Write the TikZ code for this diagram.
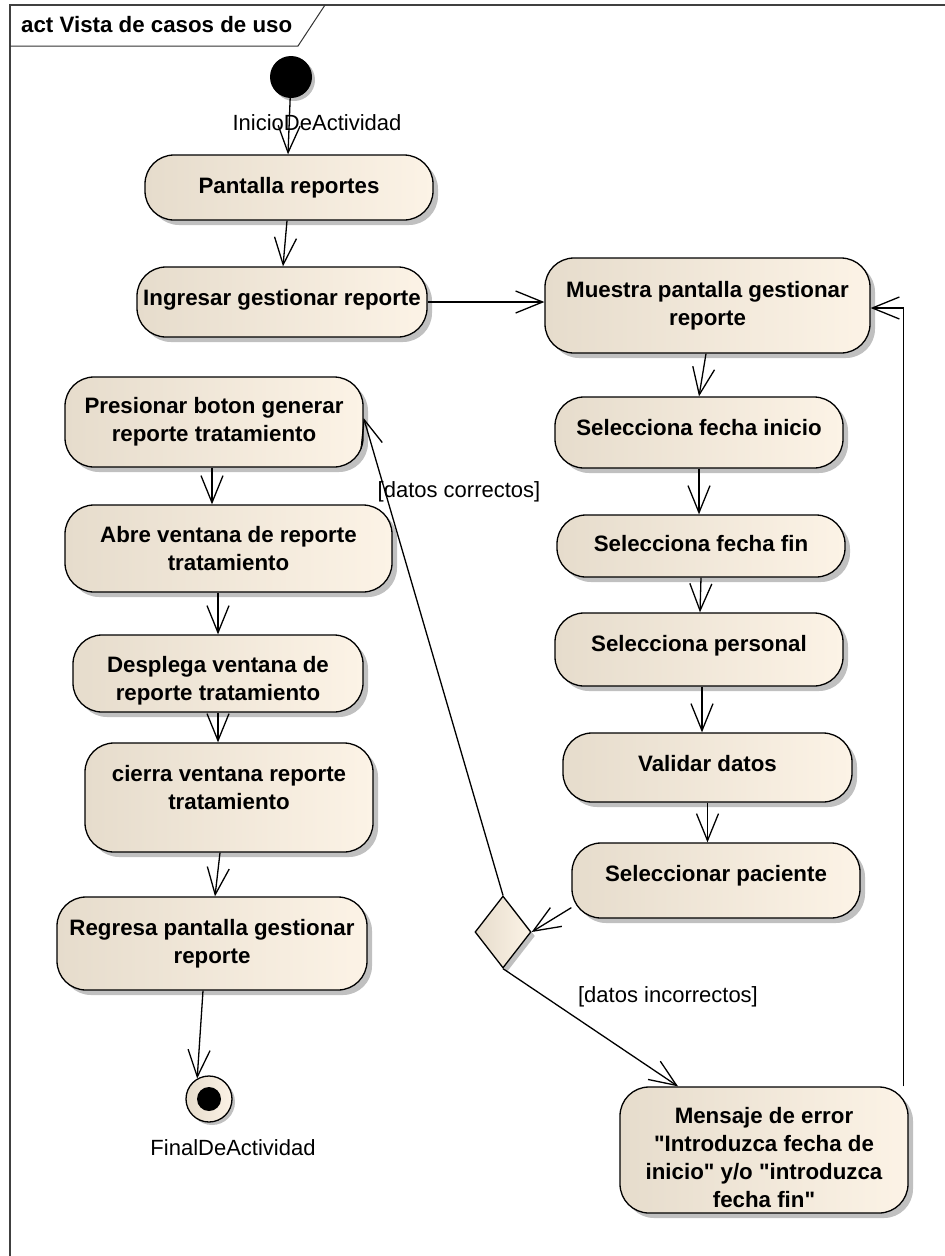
\documentclass[tikz,border=0pt]{standalone}
\usepackage{fontspec}
\newfontfamily\lsans{Liberation Sans}
\usetikzlibrary{arrows.meta,shadows,shapes.geometric}
\definecolor{actL}{RGB}{230,220,204}
\definecolor{actR}{RGB}{252,243,230}
\definecolor{shad}{RGB}{192,192,192}
\tikzset{
  act/.style={rectangle, rounded corners=29pt, draw=black, line width=1.3pt,
    left color=actL, right color=actR, align=center, inner sep=0pt,
    font=\lsans\bfseries\fontsize{22.3}{28}\selectfont,
    drop shadow={shadow xshift=5pt, shadow yshift=-5pt, fill=shad, opacity=1}},
  one/.style={text height=16pt, text depth=#1},
  flow/.style={line width=1.3pt, -{Straight Barb[length=27pt,width=22pt,line width=1.3pt]}},
  lbl/.style={font=\lsans\fontsize{22}{26}\selectfont, inner sep=0pt},
  decision/.style={diamond, draw=black, line width=1.3pt, left color=actL, right color=actR,
    minimum width=56pt, minimum height=72pt, inner sep=0pt,
    drop shadow={shadow xshift=4pt, shadow yshift=-4pt, fill=shad, opacity=1}},
}
\begin{document}
\begin{tikzpicture}[x=1pt,y=-1pt]
\useasboundingbox (0,0) rectangle (945,1256);
\fill[white] (0,0) rectangle (945,1256);
% frame
\draw[line width=1.2pt, black!75] (945,5) -- (10,5) -- (10,1256);
\coordinate (tabA) at (10,46);
\coordinate (tabB) at (298,46);
\coordinate (tabC) at (325,5);
\draw[line width=1pt, black!80] (tabA) -- (tabB) -- (tabC);
\node[anchor=base west, inner sep=0pt, font=\lsans\bfseries\fontsize{22.3}{26}\selectfont] (title) at (21,32) {act Vista de casos de uso};

% initial / final
\node[circle, fill=black, minimum size=42pt, inner sep=0pt,
  drop shadow={shadow xshift=3pt, shadow yshift=-3pt, fill=shad, opacity=1}] (init) at (291,77) {};
\node[lbl] (initl) at (317,123) {InicioDeActividad};

\node[circle, draw=black, line width=1.3pt, left color=actL, right color=actR, minimum size=46pt, inner sep=0pt,
  drop shadow={shadow xshift=3pt, shadow yshift=-3pt, fill=shad, opacity=1}] (fin) at (209,1099) {};
\node[circle, fill=black, minimum size=24pt, inner sep=0pt] (finin) at (fin) {};
\node[lbl] (finl) at (233,1148) {FinalDeActividad};

% actions
\node[act, one=5pt, minimum width=288pt, minimum height=65pt] (pant) at (289,187.5) {Pantalla reportes};
\node[act, one=8.5pt, minimum width=290pt, minimum height=70pt] (ingr) at (282,302) {Ingresar gestionar reporte};
\node[act, minimum width=325pt, minimum height=95pt] (muest) at (707.5,305.5) {Muestra pantalla gestionar\\reporte};
\node[act, one=9.5pt, minimum width=288pt, minimum height=71pt] (sfi) at (699,432.5) {Selecciona fecha inicio};
\node[act, one=5pt, minimum width=288pt, minimum height=62pt] (sff) at (701,546) {Selecciona fecha fin};
\node[act, one=12.5pt, minimum width=288pt, minimum height=73pt] (sper) at (699,649.5) {Selecciona personal};
\node[act, one=8.5pt, minimum width=289pt, minimum height=69pt] (vald) at (707.5,767.5) {Validar datos};
\node[act, one=14.5pt, minimum width=288pt, minimum height=75pt] (spac) at (716,880.5) {Seleccionar paciente};
\node[act, minimum width=298pt, minimum height=90pt] (pres) at (214,422) {Presionar boton generar\\reporte tratamiento};
\node[act, minimum width=327pt, minimum height=87pt] (abre) at (228.5,548.5) {Abre ventana de reporte\\tratamiento};
\node[act, minimum width=290pt, minimum height=77pt] (desp) at (218,673.5) {\rule{0pt}{12pt}\\[-10pt]Desplega ventana de\\reporte tratamiento};
\node[act, minimum width=288pt, minimum height=109pt] (cier) at (229,797.5) {cierra ventana reporte\\tratamiento\\[-8pt]\mbox{}};
\node[act, minimum width=310pt, minimum height=93pt] (regr) at (212,943.5) {Regresa pantalla gestionar\\reporte};
\node[act, minimum width=288pt, minimum height=126pt] (mens) at (764,1150) {\rule{0pt}{14pt}\\[-10pt]Mensaje de error\\"Introduzca fecha de\\inicio" y/o "introduzca\\fecha fin"};

\node[decision] (dec) at (503,932) {};

% labels
\node[lbl] (lcor) at (459,492) {[datos correctos]};
\node[lbl] (linc) at (668,997) {[datos incorrectos]};

% connectors
\draw[flow] (init) -- ([xshift=-1pt]pant.north);
\draw[flow] ([xshift=-2pt]pant.south) -- ([xshift=1pt]ingr.north);
\draw[flow] (ingr.east) -- (ingr.east -| muest.west);
\draw[flow] ([xshift=-1.5pt]muest.south) -- (sfi.north);
\draw[flow] (sfi.south) -- (sfi.south |- sff.north);
\draw[flow] (sff.south) -- ([xshift=-1pt]sff.south |- sper.north);
\draw[flow] ([xshift=3pt]sper.south) -- ([xshift=3pt]sper.south |- vald.north);
\draw[flow] (vald.south) -- (vald.south |- spac.north);
\draw[flow] ([yshift=11pt]spac.south west) -- (dec.east);
\draw[flow] (dec.north) -- ([yshift=4pt]pres.east);
\draw[flow] ([xshift=-2pt]pres.south) -- ([xshift=-2pt]pres.south |- abre.north);
\draw[flow] ([xshift=-10.5pt]abre.south) -- ([xshift=-10.5pt]abre.south |- desp.north);
\draw[flow] (desp.south) -- (desp.south |- cier.north);
\draw[flow] ([xshift=-9pt]cier.south) -- ([xshift=3pt]regr.north);
\draw[flow] ([xshift=-9pt]regr.south) -- (fin.120);
\draw[flow] (dec.south) -- ([xshift=-86pt]mens.north);
\draw[flow] ([xshift=-5pt]mens.north east) |- ([yshift=-2.5pt]muest.east);
\end{tikzpicture}
\end{document}
